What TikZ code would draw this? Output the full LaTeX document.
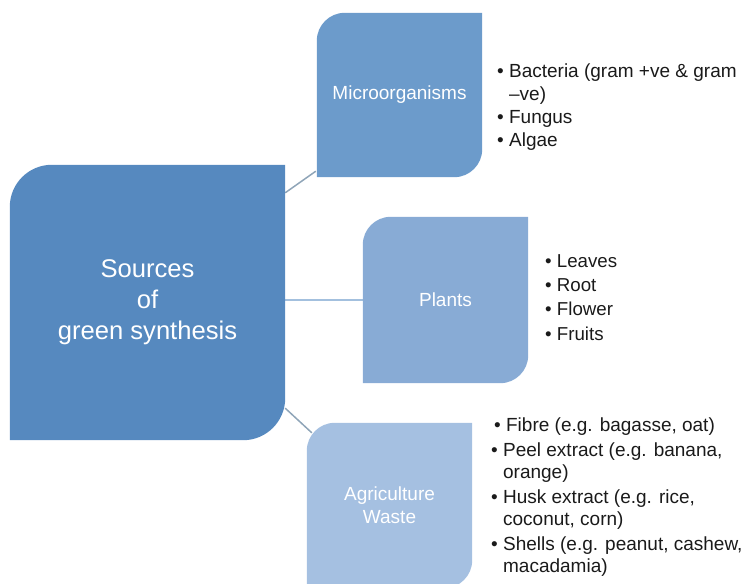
\documentclass[tikz,border=0pt]{standalone}
\usepackage{fontspec}
\setmainfont{Liberation Sans}
\usetikzlibrary{backgrounds}

\definecolor{srcblue}{HTML}{5689BF}
\definecolor{microblue}{HTML}{6C9BCB}
\definecolor{plantblue}{HTML}{88ABD5}
\definecolor{agriblue}{HTML}{A5C0E1}
\definecolor{linkgray}{HTML}{8FA5B8}
\definecolor{linkblue}{HTML}{A3C0DE}
\definecolor{listtext}{HTML}{1A1A1A}

% box with rounded top-left and bottom-right corners, filled behind its node
\newcommand\leafbox[3]{%
  \fill[#2] (#1.south west) -- ([yshift=-#3pt]#1.north west)
    arc[start angle=180,end angle=90,radius=#3pt] -- (#1.north east)
    -- ([yshift=#3pt]#1.south east)
    arc[start angle=0,end angle=-90,radius=#3pt] -- cycle;}
\newcommand\itm[1]{\textbullet\ #1}
\newcommand\cnt[1]{\phantom{\textbullet\ }#1}

\tikzset{
  hub/.style={inner sep=0pt, minimum width=275pt, minimum height=275pt,
    text=white, align=center, font=\fontsize{25.6}{31}\selectfont},
  branch/.style={inner sep=0pt, minimum width=165pt, minimum height=165pt,
    text=white, align=center, font=\fontsize{19}{23}\selectfont},
  items/.style={inner sep=0pt, anchor=north west, align=left,
    text=listtext, font=\fontsize{19}{23}\selectfont},
  link/.style={line width=1.5pt},
}

\begin{document}
\begin{tikzpicture}[x=1pt,y=1pt]
\useasboundingbox (0,0) rectangle (746,583);
\clip (0,0) rectangle (746,583);

% central source node and the three source groups
\node[hub] (src) at (147.5,280.5) {Sources\\of\\green synthesis};
\node[branch, minimum height=164pt] (micro) at (399.5,488) {Microorganisms};
\node[branch, minimum height=166pt] (plants) at (445.5,283) {Plants};
\node[branch] (agri) at (389.5,77.5) {Agriculture\\Waste};

% item lists beside each group
\node[items] (microlist) at (497,519.5) {%
  \itm{Bacteria (gram +ve \& gram}\\
  \cnt{–ve)}\\
  \itm{Fungus}\\
  \itm{Algae}};
\node[items, font=\fontsize{18.7}{24.2}\selectfont] (plantlist) at (545,328.5) {%
  \itm{Leaves}\\
  \itm{Root}\\
  \itm{Flower}\\
  \itm{Fruits}};
\node[items, font=\fontsize{19}{22}\selectfont] (agrilist) at (491,165.5) {%
  \hspace{3pt}\itm{Fibre (e.g. bagasse, oat)}\\[3pt]
  \itm{Peel extract (e.g. banana,}\\
  \cnt{orange)}\\[3pt]
  \itm{Husk extract (e.g. rice,}\\
  \cnt{coconut, corn)}\\[3pt]
  \itm{Shells (e.g. peanut, cashew,}\\
  \cnt{macadamia)}};

\begin{scope}[on background layer]
  % connectors from the source to each group
  \draw[link, linkgray] ([yshift=-28pt]src.north east) -- ([xshift=-1pt,yshift=6pt]micro.south west);
  \draw[link, linkblue] (plants.west -| src.east) -- (plants.west);
  \draw[link, linkgray] ([yshift=32pt]src.south east) -- ([xshift=5pt,yshift=-10pt]agri.north west);
  % box shapes
  \leafbox{src}{srcblue}{42}
  \leafbox{micro}{microblue}{28}
  \leafbox{plants}{plantblue}{28}
  \leafbox{agri}{agriblue}{28}
\end{scope}
\end{tikzpicture}
\end{document}
